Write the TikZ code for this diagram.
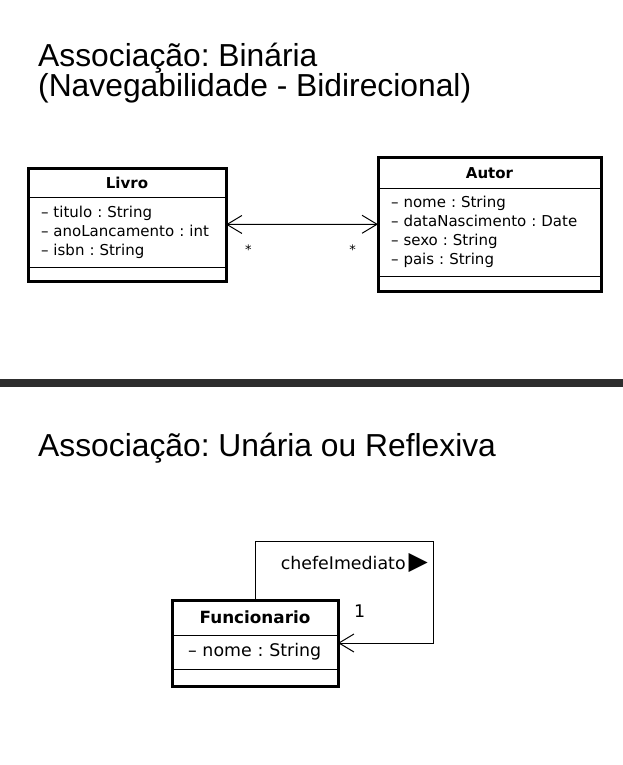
\documentclass[tikz,border=0pt]{standalone}
\usepackage{fontspec}
\usepackage{tikz}
\usetikzlibrary{arrows.meta,positioning,fit}
\newfontfamily\titlefont{Liberation Sans}
\newfontfamily\umlfont{DejaVu Sans}
\definecolor{rulegray}{RGB}{46,46,46}
\frenchspacing
\tikzset{
  ttl/.style={anchor=base west,inner sep=0pt,align=left,font=\titlefont\fontsize{31.8}{28}\selectfont},
  part/.style={rectangle,draw,line width=1pt,outer sep=0pt,inner sep=0pt},
  hdr/.style={part,font=\umlfont\bfseries\fontsize{15}{17}\selectfont},
  bighdr/.style={part,font=\umlfont\bfseries\fontsize{16.8}{20}\selectfont},
  attr/.style={part,align=left,inner xsep=13pt,font=\umlfont\fontsize{15}{19}\selectfont},
  bigattr/.style={part,align=left,inner xsep=16pt,font=\umlfont\fontsize{17.4}{20}\selectfont},
  ops/.style={part},
  frame/.style={rectangle,draw,line width=3pt,inner sep=0pt,outer sep=0pt},
  assoc/.style={draw,line width=1pt,>={Straight Barb[length=15pt,width=18pt]}},
  mult/.style={inner sep=0pt,font=\umlfont\fontsize{13}{15}\selectfont},
  role/.style={inner sep=0pt,font=\umlfont\fontsize{17.4}{20}\selectfont},
}

\begin{document}
\begin{tikzpicture}[x=1pt,y=-1pt]
  \useasboundingbox (0,0) rectangle (623,765);
  \node[ttl] (tBin) at (38,97) {Associação: Binária\\(Navegabilidade - Bidirecional)};
  \node[hdr,minimum width=198pt,minimum height=29pt] (livroH) at (127,182.5) {Livro};
  \node[attr,text width=172pt,minimum height=70pt,below=0pt of livroH] (livroA)
    {– titulo : String\\– anoLancamento : int\\– isbn : String};
  \node[ops,minimum width=198pt,minimum height=14pt,below=0pt of livroA] (livroO) {};
  \node[frame,fit=(livroH)(livroO)] (livro) {};
  \node[hdr,minimum width=223pt,minimum height=30.5pt] (autorH) at (489.5,172.75) {Autor};
  \node[attr,text width=197pt,minimum height=88pt,below=0pt of autorH] (autorA)
    {– nome : String\\– dataNascimento : Date\\– sexo : String\\– pais : String};
  \node[ops,minimum width=223pt,minimum height=15pt,below=0pt of autorA] (autorO) {};
  \node[frame,fit=(autorH)(autorO)] (autor) {};
  \draw[assoc,<->] (livro.east) -- (autor.west);
  \node[mult,below right=20pt and 19pt of livro.east] (mLivro) {*};
  \node[mult,below left=20pt and 22pt of autor.west] (mAutor) {*};
  \fill[rulegray] (0,379) rectangle (623,387);
  \node[ttl] (tUna) at (38,456) {Associação: Unária ou Reflexiva};
  \node[bighdr,minimum width=166pt,minimum height=35pt] (funcH) at (255,617.5) {Funcionario};
  \node[bigattr,text width=134pt,minimum height=34pt,below=0pt of funcH] (funcA) {– nome : String};
  \node[ops,minimum width=166pt,minimum height=17pt,below=0pt of funcA] (funcO) {};
  \node[frame,fit=(funcH)(funcO)] (func) {};
  \coordinate (loopCorner) at (433,541);
  \draw[assoc,->] (func.north) |- (loopCorner) |- (func.east);
  \node[role,below left=12pt and 5pt of loopCorner] (roleName)
    {chefeImediato\,{\fontsize{25}{25}\selectfont ▶}};
  \node[role,above right=25pt and 16pt of func.east] (mFunc) {1};
\end{tikzpicture}
\end{document}
